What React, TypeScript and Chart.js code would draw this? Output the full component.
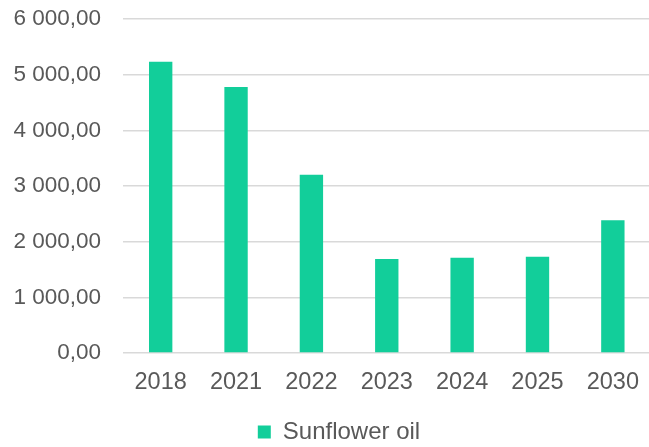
import React, { useEffect, useRef } from "react";
import { Chart, registerables } from "chart.js";

Chart.register(...registerables);

const categories = ["2018", "2021", "2022", "2023", "2024", "2025", "2030"];
const sunflowerOil = [5230, 4780, 3200, 1690, 1710, 1730, 2385];
const seriesName = "Sunflower oil";
const yMin = 0;
const yMax = 6000;
const yStep = 1000;

function formatTick(v: number): string {
  const fixed = Math.abs(v).toFixed(2);
  const [intPart, dec] = fixed.split(".");
  const withSpaces = intPart.replace(/\B(?=(\d{3})+(?!\d))/g, " ");
  return (v < 0 ? "-" : "") + withSpaces + "," + dec;
}

const legendShift = {
  id: "legendShift",
  afterLayout(chart: any) {
    const l = chart.legend;
    if (l) {
      l.left += 12;
      l.right += 12;
    }
  },
};

export default function App() {
  const ref = useRef<HTMLCanvasElement | null>(null);

  useEffect(() => {
    document.body.style.margin = "0";
    document.body.style.overflow = "hidden";
    if (!ref.current) return;
    const family = "'Liberation Sans', Arial, sans-serif";
    const chart = new Chart(ref.current, {
      type: "bar",
      data: {
        labels: categories,
        datasets: [
          {
            label: seriesName,
            data: sunflowerOil,
            backgroundColor: "#12CE9A",
            borderWidth: 0,
            categoryPercentage: 1,
            barPercentage: 0.31,
          },
        ],
      },
      plugins: [legendShift],
      options: {
        animation: false,
        responsive: false,
        maintainAspectRatio: false,
        layout: { padding: { top: 19, left: 0, right: 0, bottom: 0 } },
        plugins: {
          tooltip: { enabled: false },
          legend: {
            position: "bottom",
            labels: {
              font: { family, size: 24 },
              color: "#595959",
              boxWidth: 13,
              boxHeight: 13,
              padding: 25,
            },
          },
        },
        scales: {
          x: {
            afterFit: (scale: any) => {
              scale.height = 42;
            },
            grid: { display: false, drawTicks: false },
            border: { display: false },
            ticks: { font: { family, size: 23.5 }, color: "#595959", padding: 15, maxRotation: 0 },
          },
          y: {
            min: yMin,
            max: yMax,
            afterFit: (scale: any) => {
              scale.width = 123;
            },
            grid: {
              color: "#d9d9d9",
              lineWidth: 1.5,
              drawTicks: true,
              tickLength: 22,
              tickColor: "rgba(0,0,0,0)",
            },
            border: { display: false },
            ticks: {
              stepSize: yStep,
              font: { family, size: 22.5 },
              color: "#595959",
              padding: 0,
              callback: (v: any) => formatTick(Number(v)),
            },
          },
        },
      },
    });
    return () => chart.destroy();
  }, []);

  return (
    <div style={{ position: "fixed", left: 0, top: 0, width: 649, height: 447, overflow: "hidden", background: "#fff" }}>
      <canvas ref={ref} width={654} height={454} style={{ display: "block", width: 654, height: 454 }} />
    </div>
  );
}
